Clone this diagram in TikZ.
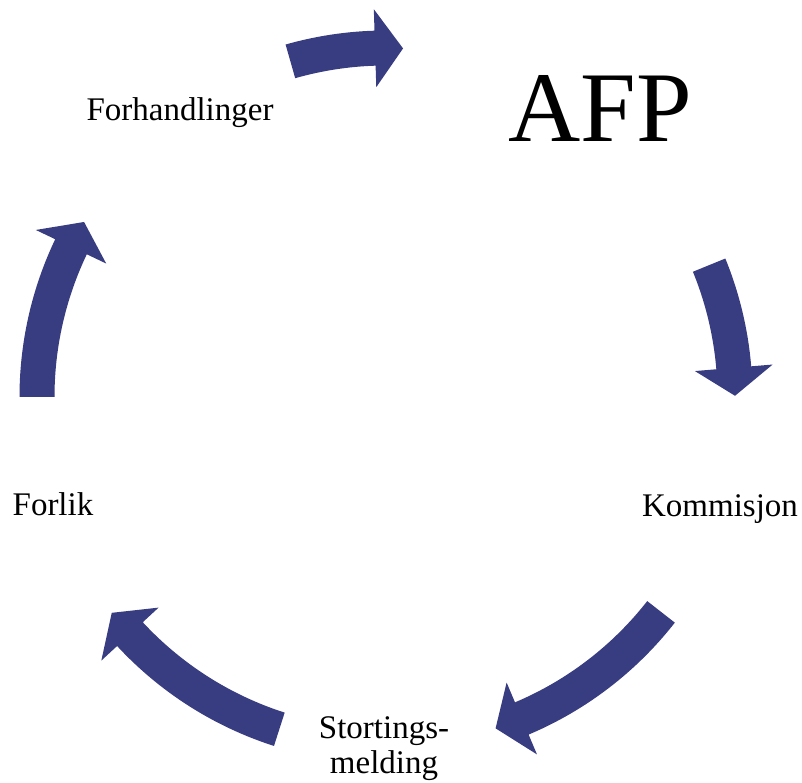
\documentclass[tikz,border=0pt]{standalone}
\usepackage{fontspec}
\setmainfont{Liberation Serif}
\definecolor{cyclefill}{RGB}{56,60,128}

\begin{document}
\begin{tikzpicture}[x=1pt,y=1pt,
  steplabel/.style={font=\fontsize{33}{35}\selectfont,inner sep=0pt,anchor=base,align=center},
  titlelabel/.style={font=\fontsize{100}{100}\selectfont,inner sep=0pt,anchor=base},
  cyclearrow/.style={fill=cyclefill,draw=none}]
\useasboundingbox (0,0) rectangle (802,782);
%centre of the cycle
\coordinate (c) at (386,385);
\def\rmid{349}
\def\rout{366.5}
\def\rin{331.5}
\def\rhout{388}
\def\rhin{310}

%arrows (tail angle / tip angle)
\foreach \a/\b in {105.9/87.2, 22.2/0.2, -38/-71.7, -107.8/-141.8, 180/149.9}{
	\pgfmathsetmacro\h{\b+4.6}
	\fill[cyclearrow] ([shift={(\a:\rout)}]c) arc[start angle=\a, end angle=\h, radius=\rout]
		-- ([shift={(\h:\rhout)}]c) -- ([shift={(\b:\rmid)}]c) -- ([shift={(\h:\rhin)}]c)
		-- ([shift={(\h:\rin)}]c) arc[start angle=\h, end angle=\a, radius=\rin] -- cycle;}

%labels
\node[titlelabel] (afp) at (600,640) {AFP};
\node[steplabel] (kommisjon) at (720,266) {Kommisjon};
\node[steplabel] (stortingsmelding) at (384,9) {Stortings-\\melding};
\node[steplabel] (forlik) at (53,267) {Forlik};
\node[steplabel] (forhandlinger) at (180,661) {Forhandlinger};
\end{tikzpicture}
\end{document}
